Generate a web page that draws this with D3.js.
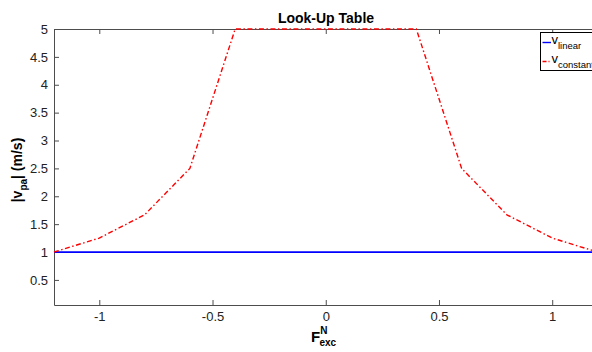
<!DOCTYPE html>
<html>
<head>
<meta charset="utf-8">
<script src="https://cdn.jsdelivr.net/npm/d3@7"></script>
<style>
  html, body { margin: 0; padding: 0; background: #fff; overflow: hidden; }
  svg { display: block; font-family: "Liberation Sans", Arial, sans-serif; }
</style>
</head>
<body>
<svg id="chart" width="592" height="352"></svg>
<script>
// Look-up table: speed limit versus normalised excitation force
const forceLinear = [-1.2, 1.2];
const speedLinear = [1, 1];
const forceConstant = [-1.2, -1, -0.8, -0.6, -0.4, 0.4, 0.6, 0.8, 1, 1.2];
const speedConstant = [1, 1.25, 1.667, 2.5, 5, 5, 2.5, 1.667, 1.25, 1];
const xTicks = [-1, -0.5, 0, 0.5, 1];
const yTicks = [0.5, 1, 1.5, 2, 2.5, 3, 3.5, 4, 4.5, 5];

const svg = d3.select("#chart");
const plotL = 54, plotR = 597.5, plotT = 29, plotB = 305;
const axisColor = "#4d4d4d";

const x = d3.scaleLinear().domain([-1.2, 1.2]).range([plotL, plotR]);
const y = d3.scaleLinear().domain([0.05, 5]).range([plotB, plotT]);

svg.append("rect").attr("x", plotL).attr("y", plotT)
  .attr("width", plotR - plotL).attr("height", plotB - plotT).attr("fill", "#fff");

// axes with inward ticks
const fmt = d => String(d);
const gB = svg.append("g").attr("transform", `translate(0,${plotB})`)
  .call(d3.axisBottom(x).tickValues(xTicks).tickFormat(fmt).tickSizeInner(-5).tickSizeOuter(0).tickPadding(7));
const gT = svg.append("g").attr("transform", `translate(0,${plotT})`)
  .call(d3.axisTop(x).tickValues(xTicks).tickFormat("").tickSizeInner(-5).tickSizeOuter(0));
const gL = svg.append("g").attr("transform", `translate(${plotL},0)`)
  .call(d3.axisLeft(y).tickValues(yTicks).tickFormat(fmt).tickSizeInner(-5).tickSizeOuter(0).tickPadding(6));
const gR = svg.append("g").attr("transform", `translate(${plotR},0)`)
  .call(d3.axisRight(y).tickValues(yTicks).tickFormat("").tickSizeInner(-5).tickSizeOuter(0));

[gB, gT, gL, gR].forEach(g => {
  g.select(".domain").attr("stroke", axisColor).attr("stroke-width", 1);
  g.selectAll(".tick line").attr("stroke", axisColor);
  g.selectAll(".tick text").attr("fill", "#222").attr("font-size", 13)
    .attr("font-family", "Liberation Sans, Arial, sans-serif");
});

// series
const line = d3.line().x(d => x(d[0])).y(d => y(d[1]));
const linearPts = d3.zip(forceLinear, speedLinear);
const constantPts = d3.zip(forceConstant, speedConstant);

svg.append("path").datum(linearPts).attr("d", line)
  .attr("fill", "none").attr("stroke", "#0000ff").attr("stroke-width", 1.8);
svg.append("path").datum(constantPts).attr("d", line)
  .attr("fill", "none").attr("stroke", "#ff0000").attr("stroke-width", 1.4)
  .attr("stroke-dasharray", "5,2.5,1.5,2.5");

// title
svg.append("text").attr("x", 326).attr("y", 23).attr("text-anchor", "middle")
  .attr("font-size", 14).attr("font-weight", "bold").attr("fill", "#000")
  .text("Look-Up Table");

// x label: F^N_exc
const xl = svg.append("text").attr("x", 311).attr("y", 342)
  .attr("font-weight", "bold").attr("fill", "#000");
xl.append("tspan").attr("font-size", 15).text("F");
xl.append("tspan").attr("font-size", 10).attr("dy", -8).text("N");
xl.append("tspan").attr("font-size", 10).attr("dx", -8).attr("dy", 12).text("exc");

// y label: |v_pa| (m/s)
const yl = svg.append("text").attr("transform", "translate(22,170) rotate(-90)")
  .attr("text-anchor", "middle").attr("font-weight", "bold").attr("fill", "#000");
yl.append("tspan").attr("font-size", 14).text("|v");
yl.append("tspan").attr("font-size", 10).attr("dy", 5).text("pa");
yl.append("tspan").attr("font-size", 14).attr("dy", -5).text("| (m/s)");

// legend (the box runs past the right edge of the figure)
const lg = svg.append("g").attr("transform", "translate(540.5,32.5)");
lg.append("rect").attr("width", 70).attr("height", 38)
  .attr("fill", "#fff").attr("stroke", "#000").attr("stroke-width", 1);
const entries = [
  { name: "linear", color: "#0000ff", dash: null, yy: 10 },
  { name: "constant", color: "#ff0000", dash: "4,2,1,2", yy: 29 }
];
entries.forEach(e => {
  lg.append("line").attr("x1", 2).attr("x2", 10.5).attr("y1", e.yy).attr("y2", e.yy)
    .attr("stroke", e.color).attr("stroke-width", 1.4)
    .attr("stroke-dasharray", e.dash);
  const t = lg.append("text").attr("x", 11).attr("y", e.yy + 1).attr("fill", "#000");
  t.append("tspan").attr("font-size", 13).text("v");
  t.append("tspan").attr("font-size", 9.5).attr("dy", 5).text(e.name);
});
</script>
</body>
</html>
